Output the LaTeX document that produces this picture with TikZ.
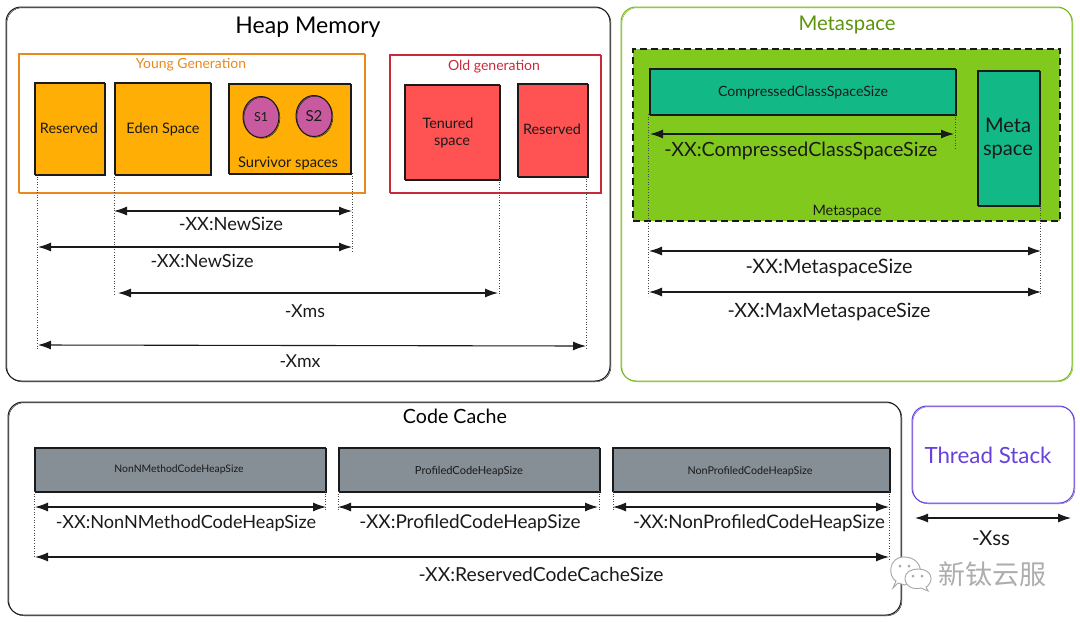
\documentclass[tikz,border=0pt]{standalone}
\usepackage{fontspec}
\usepackage{graphicx}
\setmainfont{Lato}
\newfontfamily\cjkfont{Noto Sans CJK SC}
\usetikzlibrary{arrows.meta,shapes.geometric}
\definecolor{orangeline}{HTML}{E8891C}
\definecolor{redline}{HTML}{C92A3A}
\definecolor{greenline}{HTML}{74B816}
\definecolor{greentext}{HTML}{5C940D}
\definecolor{purpleline}{HTML}{6741D9}
\definecolor{amberfill}{HTML}{FFAE06}
\definecolor{redfill}{HTML}{FF5252}
\definecolor{pinkfill}{HTML}{C95AA0}
\definecolor{limefill}{HTML}{82C91E}
\definecolor{tealfill}{HTML}{12B886}
\definecolor{grayfill}{HTML}{868E96}
\definecolor{inkc}{HTML}{1A1A1A}
\newcommand{\bx}[6]{\node[#6,minimum width=#4pt-#2pt,minimum height=#5pt-#3pt,anchor=north west] (#1) at (#2,#3) {};}
\newcommand{\lb}[6][inkc]{\node[lab,text=#1] (#2) at (#3,#4) {\resizebox{#5pt}{!}{#6}};}
\tikzset{
  lab/.style={inner sep=0pt,outer sep=0pt},
  sketchy/.style={draw=#1,inner sep=0pt,outer sep=0pt,line width=1pt,
     postaction={draw,line width=.4pt,transform canvas={shift={(.9pt,-.8pt)}}}},
  sketchy/.default=inkc,
  outer/.style={sketchy=#1,rounded corners=15pt},
  card/.style={sketchy,fill=#1},
  oval/.style={ellipse,sketchy,fill=pinkfill},
  span/.style={{Latex[length=13pt,width=9pt]}-{Latex[length=13pt,width=9pt]},line width=1.1pt,draw=inkc},
  guide/.style={dotted,line width=.6pt,draw=inkc!80},
}
\begin{document}
\begin{tikzpicture}[x=1pt,y=-1pt]
\useasboundingbox (0,0) rectangle (1080,622);
% containers
\bx{heap}{6}{7}{610}{381}{outer=inkc}
\bx{young}{18}{53}{364}{192}{sketchy=orangeline}
\bx{old}{389}{54}{600}{192}{sketchy=redline}
\bx{meta}{621}{7}{1072}{381}{outer=greenline}
\bx{cache}{8}{402}{901}{615}{outer=inkc}
\bx{thread}{912}{406}{1074}{503}{outer=purpleline}
% heap cards
\bx{resA}{34}{82}{104}{174}{card=amberfill}
\bx{eden}{114}{82}{210}{174}{card=amberfill}
\bx{surv}{228}{83}{350}{173}{card=amberfill}
\node[oval,minimum width=36pt,minimum height=41pt] (s1) at (261,117) {};
\node[oval,minimum width=36pt,minimum height=41pt] (s2) at (314,116) {};
\bx{tenured}{404}{84}{499}{179}{card=redfill}
\bx{resB}{517}{83}{587}{176}{card=redfill}
% metaspace cards
\bx{dash}{633}{49}{1060}{221}{draw=inkc,fill=limefill,dash pattern=on 7pt off 4pt,line width=1.2pt,inner sep=0pt,outer sep=0pt}
\bx{ccs}{649}{68}{955}{114}{card=tealfill}
\bx{mspace}{977}{70}{1039}{205}{card=tealfill}
% code cache cards
\bx{nonn}{34}{447}{325}{491}{card=grayfill}
\bx{prof}{338}{447}{599}{491}{card=grayfill}
\bx{nonp}{612}{447}{889}{491}{card=grayfill}
% arrow ends
\coordinate (a1) at (114,211); \coordinate (a2) at (352,211);
\coordinate (b1) at (38,247);  \coordinate (b2) at (352,247);
\coordinate (c1) at (118,293); \coordinate (c2) at (498,293);
\coordinate (d1) at (38,345);  \coordinate (d2) at (586,346);
\coordinate (e1) at (650,134); \coordinate (e2) at (954,134);
\coordinate (f1) at (649,251); \coordinate (f2) at (1041,251);
\coordinate (g1) at (649,292); \coordinate (g2) at (1041,292);
\coordinate (h1) at (35,507);  \coordinate (h2) at (326,507);
\coordinate (i1) at (338,507); \coordinate (i2) at (598,507);
\coordinate (j1) at (613,507); \coordinate (j2) at (889,507);
\coordinate (k1) at (35,557);  \coordinate (k2) at (889,557);
\coordinate (l1) at (915,518); \coordinate (l2) at (1071,518);
% guide ends
\coordinate (ga) at (37,350);  \coordinate (gb) at (114,296);
\coordinate (gc) at (352,252); \coordinate (gd) at (499,296);
\coordinate (ge) at (586,349); \coordinate (gf) at (648,296);
\coordinate (gg) at (955,150); \coordinate (gh) at (1040,296);
\coordinate (gi) at (34,558);  \coordinate (gj) at (325,511);
\coordinate (gk) at (338,511); \coordinate (gl) at (599,511);
\coordinate (gm) at (613,511); \coordinate (gn) at (889,561);
% guides
\draw[guide] (resA.south west) ++(3,0) -- (ga);
\draw[guide] (eden.south west) -- (gb);
\draw[guide] (surv.south east) ++(2,0) -- (gc);
\draw[guide] (tenured.south east) -- (gd);
\draw[guide] (resB.south east) ++(-1,0) -- (ge);
\draw[guide] (ccs.south west) ++(-1,0) -- (gf);
\draw[guide] (ccs.south east) -- (gg);
\draw[guide] (mspace.south east) ++(1,0) -- (gh);
\draw[guide] (nonn.south west) -- (gi);
\draw[guide] (nonn.south east) -- (gj);
\draw[guide] (prof.south west) -- (gk);
\draw[guide] (prof.south east) -- (gl);
\draw[guide] (nonp.south west) ++(1,0) -- (gm);
\draw[guide] (nonp.south east) -- (gn);
% arrows
\foreach \p in {a,b,c,d,e,f,g,h,i,j,k,l}{\draw[span] (\p1) -- (\p2);}
% labels
\lb[black]{tHeap}{308}{27}{145}{Heap Memory}
\lb[orangeline]{tYoung}{191}{65}{110}{Young Generation}
\lb[redline]{tOld}{494}{67}{92}{Old generation}
\lb{tResA}{69}{128}{58}{Reserved}
\lb{tEden}{163}{129}{73}{Eden Space}
\lb{tS1}{261}{117}{14}{S1}
\lb{tS2}{314}{116}{17}{S2}
\lb{tSurv}{288}{163}{100}{Survivor spaces}
\lb{tTen}{448}{123}{51}{Tenured}
\lb{tSpc}{452}{143}{36}{space}
\lb{tResB}{552}{129}{58}{Reserved}
\lb{tNew}{231}{224}{104}{-XX:NewSize}
\lb{tNewB}{202}{261}{103}{-XX:NewSize}
\lb{tXms}{305}{311}{40}{-Xms}
\lb{tXmx}{300}{361}{41}{-Xmx}
\lb[greentext]{tMeta}{847}{25}{97}{Metaspace}
\lb{tCcs}{803}{92}{170}{CompressedClassSpaceSize}
\lb{tCcsO}{801}{151}{273}{-XX:CompressedClassSpaceSize}
\lb{tMs}{1008}{125}{46}{Meta}
\lb{tMsB}{1008}{152}{50}{space}
\lb{tMsC}{847}{212}{69}{Metaspace}
\lb{tMsS}{829}{268}{167}{-XX:MetaspaceSize}
\lb{tMaxS}{829}{312}{203}{-XX:MaxMetaspaceSize}
\lb[black]{tCode}{455}{416}{104}{Code Cache}
\lb{tNonN}{179}{470}{129}{NonNMethodCodeHeapSize}
\lb{tProf}{469}{471}{108}{ProfiledCodeHeapSize}
\lb{tNonP}{750}{471}{125}{NonProfiledCodeHeapSize}
\lb{tNonNO}{186}{523}{260}{-XX:NonNMethodCodeHeapSize}
\lb{tProfO}{470}{523}{221}{-XX:ProfiledCodeHeapSize}
\lb{tNonPO}{759}{523}{252}{-XX:NonProfiledCodeHeapSize}
\lb{tRes}{541}{574}{245}{-XX:ReservedCodeCacheSize}
\lb[purpleline]{tThread}{988}{455}{127}{Thread Stack}
\lb{tXss}{991}{538}{38}{-Xss}
% watermark
\begin{scope}[draw=black!35,line width=.9pt,fill=white]
\draw[fill=white] (898,583) -- (893,588) -- (896,581) .. controls (888,577) and (888,557) .. (904,557) .. controls (916,557) and (922,566) .. (920,574) -- (905,585) -- cycle;
\draw[fill=white] (905,578) .. controls (905,566) and (931,566) .. (931,578) .. controls (931,585) and (926,587) .. (926,587) -- (928,591) -- (921,588) .. controls (914,590) and (905,587) .. (905,578) -- cycle;
\fill[black!35] (900,566) circle (1.5pt) (909,566) circle (1.5pt) (913,576) circle (1.5pt) (922,576) circle (1.5pt);
\end{scope}
\node[lab,text=black!32,font=\cjkfont] (wm) at (992,574) {\resizebox{108pt}{!}{新钛云服}};
\end{tikzpicture}
\end{document}
